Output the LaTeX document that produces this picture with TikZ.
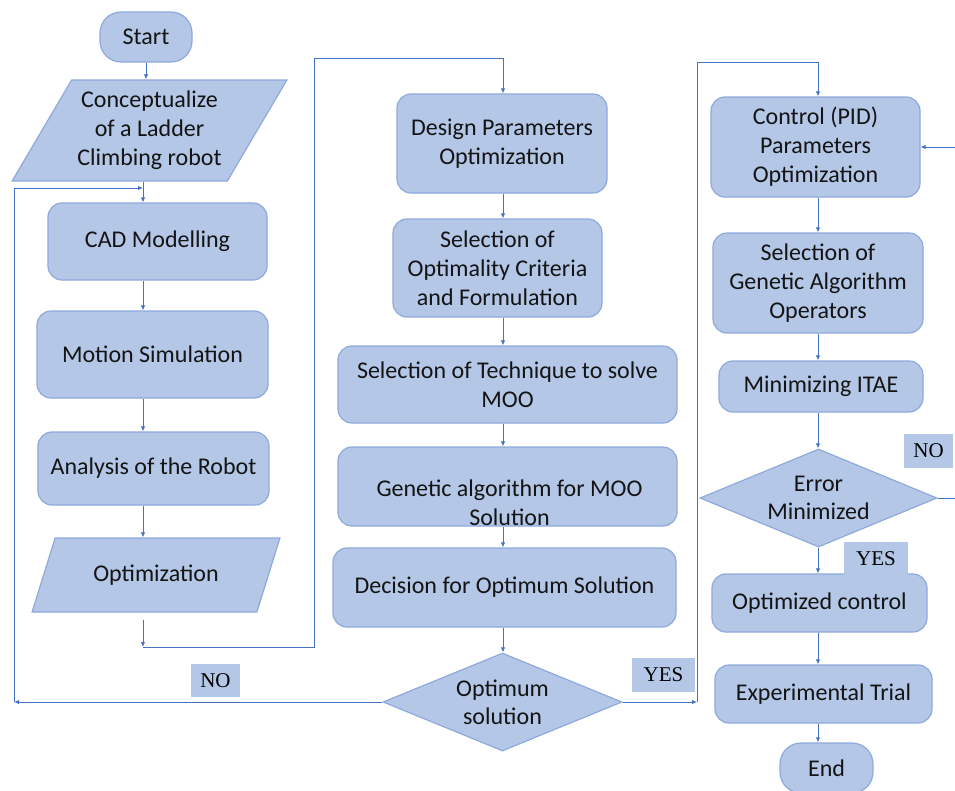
\documentclass[tikz,border=0pt]{standalone}
\usepackage{fontspec}
\setmainfont{Carlito}
\newfontfamily\labelfont{Liberation Serif}
\usetikzlibrary{calc, shapes.geometric, arrows.meta}

\definecolor{boxfill}{HTML}{B4C7E7}
\definecolor{boxline}{HTML}{8EA9DB}
\definecolor{linecol}{HTML}{4472C4}
\definecolor{textcol}{HTML}{141414}

\tikzset{
  boxtext/.style={text=textcol, font=\fontsize{24}{29}\selectfont, align=center},
  proc/.style={draw=boxline, fill=boxfill, line width=1.2pt, rounded corners=14pt, inner sep=0pt, boxtext},
  term/.style={proc, rounded corners=21pt},
  io/.style={trapezium, trapezium left angle=55, trapezium right angle=125, trapezium stretches=true,
    draw=boxline, fill=boxfill, line width=1.2pt, inner sep=0pt, boxtext},
  decide/.style={diamond, aspect=2.44, draw=boxline, fill=boxfill, line width=1.2pt, inner sep=0pt, boxtext,
    font=\fontsize{24}{28}\selectfont},
  answer/.style={fill=boxfill, text=black, inner sep=0pt, font=\labelfont\fontsize{21}{21}\selectfont},
  flow/.style={draw=linecol, line width=1pt, -{Latex[length=5pt,width=4.5pt]}},
  wire/.style={draw=linecol, line width=1pt},
}

\begin{document}
\begin{tikzpicture}[x=1pt,y=-1pt]
  \useasboundingbox[fill=white] (0,0) rectangle (955,790); % 画像サイズ

  % 左の列
  \node[term, minimum width=92pt, minimum height=50pt] (start) at (146,37) {Start};
  \node[io, minimum width=275pt, minimum height=101pt] (concept) at (149.5,130.5) {Conceptualize\\of a Ladder\\Climbing robot};
  \node[proc, minimum width=219pt, minimum height=77pt] (cad) at (157.5,241.5) {CAD Modelling};
  \node[proc, minimum width=231pt, minimum height=87pt] (motion) at (152.5,354.5) {Motion Simulation};
  \node[proc, minimum width=231pt, minimum height=73pt] (analysis) at (153.5,468.5) {Analysis of the Robot};
  \node[io, minimum width=248pt, minimum height=74pt] (optim) at (156,575) {Optimization};

  % 中央の列
  \node[proc, minimum width=210pt, minimum height=99pt] (design) at (502,143.5) {Design Parameters\\Optimization};
  \node[proc, minimum width=209pt, minimum height=98pt] (selopt) at (497.5,268) {Selection of\\Optimality Criteria\\and Formulation};
  \node[proc, minimum width=339pt, minimum height=77pt] (tech) at (507.5,384.5) {Selection of Technique to solve\\MOO};
  \node[proc, minimum width=339pt, minimum height=79pt] (genetic) at (507.5,486.5) {};
  \node[boxtext] (genetictext) at ($(genetic)+(2,16)$) {Genetic algorithm for MOO\\Solution};
  \node[proc, minimum width=343pt, minimum height=79pt] (decision) at (504.5,587.5) {Decision for Optimum Solution};
  \node[decide, minimum width=239pt, minimum height=98pt] (optimum) at (502.5,702) {Optimum\\solution};

  % 右の列
  \node[proc, minimum width=209pt, minimum height=100pt] (control) at (815.5,147) {Control (PID)\\Parameters\\Optimization};
  \node[proc, minimum width=210pt, minimum height=100pt] (selga) at (818,283) {Selection of\\Genetic Algorithm\\Operators};
  \node[proc, minimum width=204pt, minimum height=51pt] (itae) at (821,386.5) {Minimizing ITAE};
  \node[decide, minimum width=237pt, minimum height=98pt] (error) at (818.5,498) {Error\\Minimized};
  \node[proc, minimum width=215pt, minimum height=58pt] (optctrl) at (819.5,603) {Optimized control};
  \node[proc, minimum width=217pt, minimum height=58pt] (exptrial) at (823.5,694) {Experimental Trial};
  \node[term, minimum width=93pt, minimum height=50pt] (end) at (826.5,768) {End};

  % 線の x 座標
  \coordinate (lx) at (143,0);
  \coordinate (mx) at (503,0);
  \coordinate (rx) at (818,0);

  % 左の列の矢印
  \draw[flow] (start.south) -- (start.south |- concept.north);
  \foreach \a/\b in {concept/cad, cad/motion, motion/analysis, analysis/optim} {
    \draw[flow] (\a.south -| lx) -- (\b.north -| lx);
  }
  \coordinate (loopstart) at ($(optim.south -| lx)+(0,7)$);
  \coordinate (loopdown) at (143,647);
  \coordinate (looptop) at (314,58);
  \draw[flow] (loopstart) -- (loopdown);
  \draw[flow] (loopdown) -| (looptop) -| (design.north -| mx);

  % 中央の列の矢印
  \foreach \a/\b in {design/selopt, selopt/tech, tech/genetic, genetic/decision, decision/optimum} {
    \draw[flow] (\a.south -| mx) -- (\b.north -| mx);
  }

  % 右の列の矢印
  \foreach \a/\b in {control/selga, selga/itae, itae/error, error/optctrl, optctrl/exptrial, exptrial/end} {
    \draw[flow] (\a.south -| rx) -- (\b.north -| rx);
  }

  % NO の戻り線
  \coordinate (nocorner) at (14,702);
  \coordinate (noend) at (143,188);
  \draw[flow] (optimum.west) -- (nocorner);
  \draw[flow] (nocorner) |- (noend);

  % YES の線
  \coordinate (yescorner) at (697,702);
  \coordinate (yestop) at (697,62);
  \draw[flow] (optimum.east) -- (yescorner);
  \draw[flow] (yescorner) -- (yestop) -| (control.north -| rx);

  % 右端の線
  \coordinate (rightin) at (955,147);
  \coordinate (rightout) at (955,498);
  \draw[flow] (rightin) -- (control.east);
  \draw[wire] (error.east) -- (rightout);

  % ラベル
  \node[answer, minimum width=49pt, minimum height=33pt] (no1) at (215.5,680.5) {NO};
  \node[answer, minimum width=63pt, minimum height=34pt] (yes1) at (663.5,675) {YES};
  \node[answer, minimum width=49pt, minimum height=34pt] (no2) at (928.5,451) {NO};
  \node[answer, minimum width=64pt, minimum height=33pt] (yes2) at (876,558.5) {YES};

\end{tikzpicture}
\end{document}
